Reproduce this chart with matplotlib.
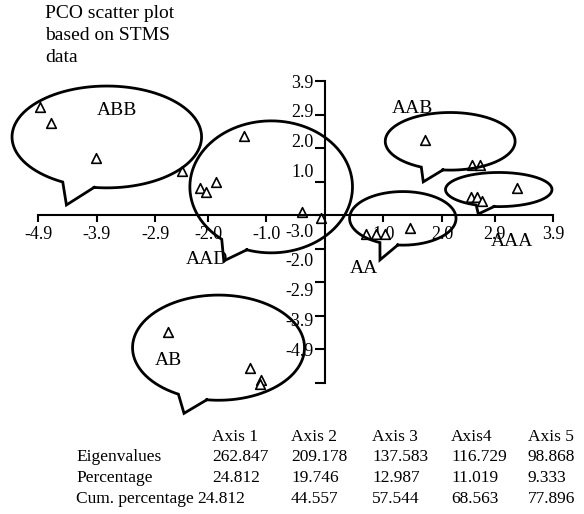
"""PCO scatter plot of STMS data with speech-bubble cluster outlines."""
import matplotlib
matplotlib.use("Agg")
import matplotlib.pyplot as plt
import numpy as np

plt.rcParams['font.family'] = ['Liberation Serif', 'DejaVu Serif']

# scores per cluster (x = axis 1, y = axis 2 in plot units)
abb_x = [-4.87, -4.68, -3.92, -2.45]
abb_y = [3.23, 2.74, 1.69, 1.31]
aad_x = [-2.14, -2.04, -1.86, -1.38, -0.39, -0.07]
aad_y = [0.80, 0.70, 0.98, 2.36, 0.10, -0.10]
aa_x = [0.70, 0.87, 1.03, 1.45]
aa_y = [-0.57, -0.57, -0.57, -0.40]
aab_x = [1.71, 2.52, 2.65]
aab_y = [2.24, 1.49, 1.49]
aaa_x = [2.49, 2.59, 2.69, 3.29]
aaa_y = [0.53, 0.53, 0.43, 0.82]
ab_x = [-2.68, -1.29, -1.10, -1.11]
ab_y = [-3.48, -4.56, -4.94, -5.05]

x_ticks = [-4.9, -3.9, -2.9, -2.0, -1.0, 1.0, 2.0, 2.9, 3.9]
x_tick_labels = ['-4.9', '-3.9', '-2.9', '-2.0', '-1.0', '1.0', '2.0', '2.9', '3.9']
y_ticks = [4, 3, 2, 1, 0, -1, -2, -3, -4, -5]
y_tick_labels = ['3.9', '2.9', '2.0', '1.0', '', '-3.0', '-2.0', '-2.9', '-3.9', '-4.9']

table_header = ['Axis 1', 'Axis 2', 'Axis 3', 'Axis4', 'Axis 5']
row_names = ['Eigenvalues', 'Percentage', 'Cum. percentage']
eigenvalues = ['262.847', '209.178', '137.583', '116.729', '98.868']
percentage = ['24.812', '19.746', '12.987', '11.019', '9.333']
cum_percentage = ['24.812', '44.557', '57.544', '68.563', '77.896']

# bubble outlines: name, ellipse centre, radii, tail tip, label position
bubbles = [
    ('ABB', (-3.73, 2.33), (1.62, 1.52), (-4.42, 0.30), (-3.56, 3.13)),
    ('AAD', (-0.92, 0.84), (1.39, 1.97), (-1.73, -1.37), (-2.01, -1.34)),
    ('AA', (1.33, -0.10), (0.91, 0.80), (0.94, -1.34), (0.66, -1.59)),
    ('AAB', (2.14, 2.20), (1.11, 0.86), (1.68, 0.99), (1.50, 3.19)),
    ('AAA', (2.97, 0.76), (0.91, 0.51), (2.62, 0.03), (3.19, -0.80)),
    ('AB', (-1.82, -3.96), (1.47, 1.57), (-2.41, -5.92), (-2.68, -4.33)),
]

W, H = 584, 514
fig = plt.figure(figsize=(W / 100, H / 100), dpi=100)
ax = fig.add_axes([0, 0, 1, 1])
ax.set_xlim(-325 / 58.5, (W - 325) / 58.5)
ax.set_ylim((215 - H) / 33.5, 215 / 33.5)
ax.patch.set_alpha(0)


def callout(center, radii, tip, half=np.radians(10)):
    cx, cy = center
    rx, ry = radii
    ang = np.arctan2((tip[1] - cy) / ry, (tip[0] - cx) / rx)
    t = np.linspace(ang + half, ang - half + 2 * np.pi, 300)
    xs = np.append(cx + rx * np.cos(t), [tip[0], cx + rx * np.cos(ang + half)])
    ys = np.append(cy + ry * np.sin(t), [tip[1], cy + ry * np.sin(ang + half)])
    return xs, ys


for name, c, r, tip, lab in bubbles:
    bx, by = callout(c, r, tip)
    ax.plot(bx, by, color='black', lw=2.0, solid_joinstyle='miter', zorder=3)
    ax.text(lab[0], lab[1], name, fontsize=14, ha='center', va='center', zorder=4)

all_x = abb_x + aad_x + aa_x + aab_x + aaa_x + ab_x
all_y = abb_y + aad_y + aa_y + aab_y + aaa_y + ab_y
ax.scatter(all_x, all_y, marker='^', s=48, facecolors='white',
           edgecolors='black', linewidths=1.2, zorder=2)

# axes crossing at the origin
for side in ['top', 'right']:
    ax.spines[side].set_visible(False)
ax.spines['left'].set_position(('data', 0))
ax.spines['bottom'].set_position(('data', 0))
ax.spines['left'].set_bounds(-5, 4)
ax.spines['bottom'].set_bounds(-4.9, 3.9)
ax.spines['left'].set_linewidth(1.5)
ax.spines['bottom'].set_linewidth(1.5)
ax.set_xticks(x_ticks)
ax.set_xticklabels(x_tick_labels, fontsize=13)
ax.set_yticks(y_ticks)
ax.set_yticklabels([])
ax.tick_params(axis='x', direction='out', length=5, width=1.5, pad=3)
ax.tick_params(axis='y', direction='out', length=7, width=1.5)
for tk, lbl in zip(y_ticks, y_tick_labels):
    ax.text(-0.19, 0.89 * tk + 0.38, lbl, fontsize=13, ha='right', va='center')


def px(x, y):
    return x / W, 1 - y / H


fig.text(*px(45, 5), 'PCO scatter plot\nbased on STMS\ndata', fontsize=14,
         ha='left', va='top', linespacing=1.38)

col_x = [212, 291, 372, 451, 528]
for j, h in enumerate(table_header):
    fig.text(*px(col_x[j], 437), h, fontsize=12.5, va='center')
for i, (name, vals) in enumerate(zip(row_names, [eigenvalues, percentage, cum_percentage])):
    y = 457 + i * 21
    fig.text(*px(76, y), name, fontsize=12.5, va='center')
    for j, v in enumerate(vals):
        x = col_x[j]
        if i == 2 and j == 0:
            x = 197
        fig.text(*px(x, y), v, fontsize=12.5, va='center')

fig.savefig('out.png', dpi=100)
